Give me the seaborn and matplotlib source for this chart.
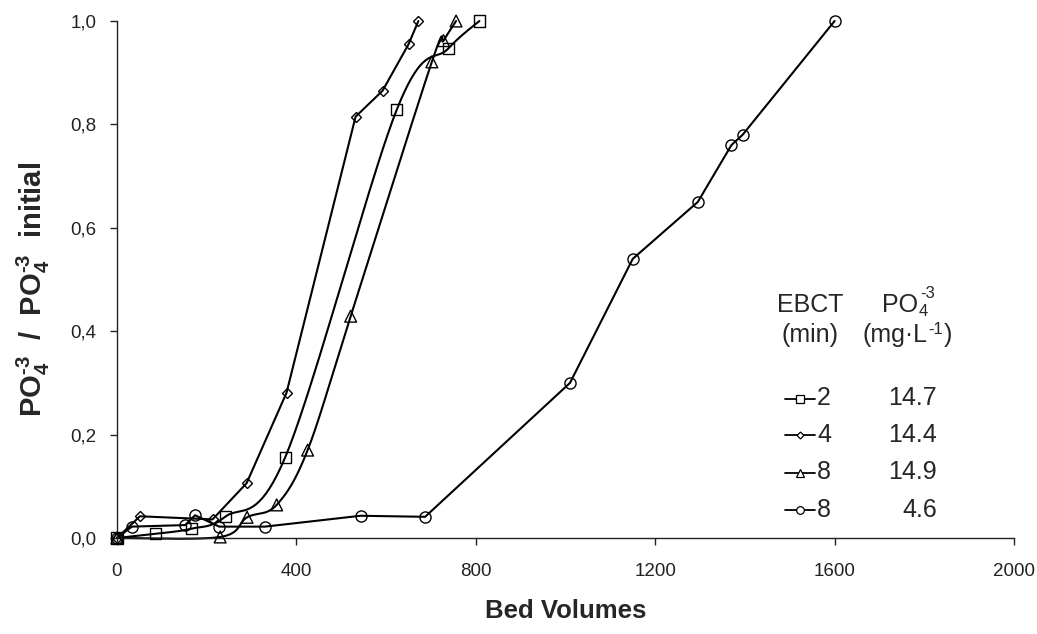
import numpy as np
import matplotlib
matplotlib.use("Agg")
import matplotlib.pyplot as plt
from matplotlib.lines import Line2D
import seaborn as sns

# Breakthrough data: bed volumes vs. C/C0 for phosphate
# EBCT 2 min, 14.7 mg/L
bv_2 = [0, 85, 166, 241, 375, 624, 739, 808]
ratio_2 = [0.0, 0.008, 0.018, 0.041, 0.156, 0.829, 0.947, 1.0]
# EBCT 4 min, 14.4 mg/L
bv_4 = [0, 51, 213, 289, 378, 532, 592, 650, 672]
ratio_4 = [0.0, 0.042, 0.036, 0.106, 0.281, 0.815, 0.865, 0.955, 1.0]
# EBCT 8 min, 14.9 mg/L
bv_8a = [0, 230, 290, 356, 425, 521, 702, 728, 756]
ratio_8a = [0.0, 0.002, 0.040, 0.064, 0.170, 0.429, 0.921, 0.962, 1.0]
# EBCT 8 min, 4.6 mg/L
bv_8b = [0, 33, 152, 174, 228, 330, 543, 687, 1010, 1150, 1295, 1370, 1395, 1600]
ratio_8b = [0.0, 0.022, 0.025, 0.044, 0.022, 0.022, 0.043, 0.041, 0.30, 0.54, 0.65,
            0.76, 0.78, 1.0]

ebct_labels = ["2", "4", "8", "8"]
po4_labels = ["14.7", "14.4", "14.9", "4.6"]
x_ticks = [0, 400, 800, 1200, 1600, 2000]
y_ticks = [0.0, 0.2, 0.4, 0.6, 0.8, 1.0]

HY = "\u2010"  # short hyphen for charge superscripts

sns.set_theme(style="ticks")
plt.rcParams["font.family"] = ["Liberation Sans", "DejaVu Sans"]
plt.rcParams["mathtext.fontset"] = "custom"
plt.rcParams["mathtext.rm"] = "Liberation Sans"
plt.rcParams["mathtext.it"] = "Liberation Sans:italic"
plt.rcParams["mathtext.bf"] = "Liberation Sans:bold"


def smooth_curve(x, y, n=40):
    """Bezier smoothing through every point (spreadsheet-style smoothed line)."""
    x = np.asarray(x, float)
    y = np.asarray(y, float)
    P = np.column_stack([x, y])
    ext = np.vstack([P[0], P, P[-1]])
    t = np.linspace(0, 1, n + 1)[1:, None]
    out = [P[0]]
    for i in range(len(P) - 1):
        p0, p1, p2, p3 = ext[i], ext[i + 1], ext[i + 2], ext[i + 3]
        c1 = p1 + (p2 - p0) / 6.0
        c2 = p2 - (p3 - p1) / 6.0
        seg = ((1 - t) ** 3) * p1 + 3 * ((1 - t) ** 2) * t * c1 \
            + 3 * (1 - t) * t ** 2 * c2 + t ** 3 * p2
        out.extend(seg)
    out = np.array(out)
    return out[:, 0], out[:, 1]


W, H = 1037, 634
fig = plt.figure(figsize=(W / 100, H / 100), dpi=100)
ax = fig.add_axes([117 / W, 1 - 538 / H, (1014 - 117) / W, (538 - 21) / H])

lw = 1.5
mew = 1.0

# Smoothed series (EBCT 2 and EBCT 8 / 14.9)
for bv, r, mk, ms in [(bv_2, ratio_2, "s", 8), (bv_8a, ratio_8a, "^", 8.5)]:
    sx, sy = smooth_curve(bv, r)
    sns.lineplot(x=sx, y=sy, sort=False, estimator=None, color="black", lw=lw, ax=ax)
    sns.scatterplot(x=bv, y=r, marker=mk, s=ms ** 2, facecolor="none",
                    edgecolor="black", linewidth=mew, ax=ax, zorder=3)

# Straight-segment series
sns.lineplot(x=bv_4, y=ratio_4, sort=False, estimator=None, color="black", lw=lw,
             marker="D", ms=5, mfc="none", mec="black", mew=mew, ax=ax)
sns.lineplot(x=bv_8b, y=ratio_8b, sort=False, estimator=None, color="black", lw=lw,
             marker="o", ms=8, mfc="none", mec="black", mew=mew, ax=ax)

for art in ax.lines + ax.collections:
    art.set_clip_on(False)

ax.set_xlim(0, 2000)
ax.set_ylim(0, 1.0)
ax.set_xticks(x_ticks)
ax.set_xticklabels([str(v) for v in x_ticks])
ax.set_yticks(y_ticks)
ax.set_yticklabels([f"{v:.1f}".replace(".", ",") for v in y_ticks])
ax.tick_params(axis="both", direction="out", length=5, width=1, colors="#222222",
               labelsize=13.5)
ax.tick_params(axis="x", pad=13)
ax.tick_params(axis="y", pad=10)
for s in ["left", "bottom"]:
    ax.spines[s].set_color("#222222")
    ax.spines[s].set_linewidth(1.0)
sns.despine(ax=ax)

ax.set_xlabel("Bed Volumes", fontsize=18.5, fontweight="bold", labelpad=14)
ax.set_ylabel(rf"PO$\mathbf{{_4^{{{HY}3}}}}$  /  PO$\mathbf{{_4^{{{HY}3}}}}$  initial",
              fontsize=21, fontweight="bold")
ax.yaxis.set_label_coords(-0.073, 0.48)

# Legend table
renderer = fig.canvas.get_renderer()

fig.text(810 / W, 1 - 311.7 / H, "EBCT", ha="center", va="baseline", fontsize=18)
fig.text(810 / W, 1 - 341.7 / H, "(min)", ha="center", va="baseline", fontsize=18)

# PO4^-3 header
t_po = fig.text(881.7 / W, 1 - 311.7 / H, "PO", ha="left", va="baseline", fontsize=18)
x_end = 881.7 + t_po.get_window_extent(renderer).width
fig.text((x_end + 0.5) / W, 1 - 316 / H, "4", ha="left", va="baseline", fontsize=12)
fig.text((x_end + 2) / W, 1 - 298.5 / H, HY + "3", ha="left", va="baseline", fontsize=12)

# (mg·L^-1) header
t_mg = fig.text(862.7 / W, 1 - 341.7 / H, "(mg\u00b7L", ha="left", va="baseline",
                fontsize=18)
x_end = 862.7 + t_mg.get_window_extent(renderer).width
t_sup = fig.text((x_end + 0.5) / W, 1 - 334 / H, HY + "1", ha="left", va="baseline",
                 fontsize=12)
x_end2 = x_end + 0.5 + t_sup.get_window_extent(renderer).width
fig.text((x_end2 + 0.5) / W, 1 - 341.7 / H, ")", ha="left", va="baseline", fontsize=18)

row_base = [405.0, 441.7, 479.3, 516.7]
markers = ["s", "D", "^", "o"]
msizes = [5.5, 3.5, 5.5, 5.5]
for yb, mk, msz, e, c in zip(row_base, markers, msizes, ebct_labels, po4_labels):
    yc = 1 - (yb - 6.5) / H
    fig.add_artist(Line2D([785 / W, 815 / W], [yc, yc], transform=fig.transFigure,
                          color="black", lw=1.3))
    fig.add_artist(Line2D([800 / W], [yc], transform=fig.transFigure, marker=mk,
                          ms=msz, mfc="white", mec="black", mew=0.9))
    fig.text(817 / W, 1 - yb / H, e, ha="left", va="baseline", fontsize=18)
    fig.text(937 / W, 1 - yb / H, c, ha="right", va="baseline", fontsize=18)

fig.savefig("out.png", dpi=100, facecolor="white")
